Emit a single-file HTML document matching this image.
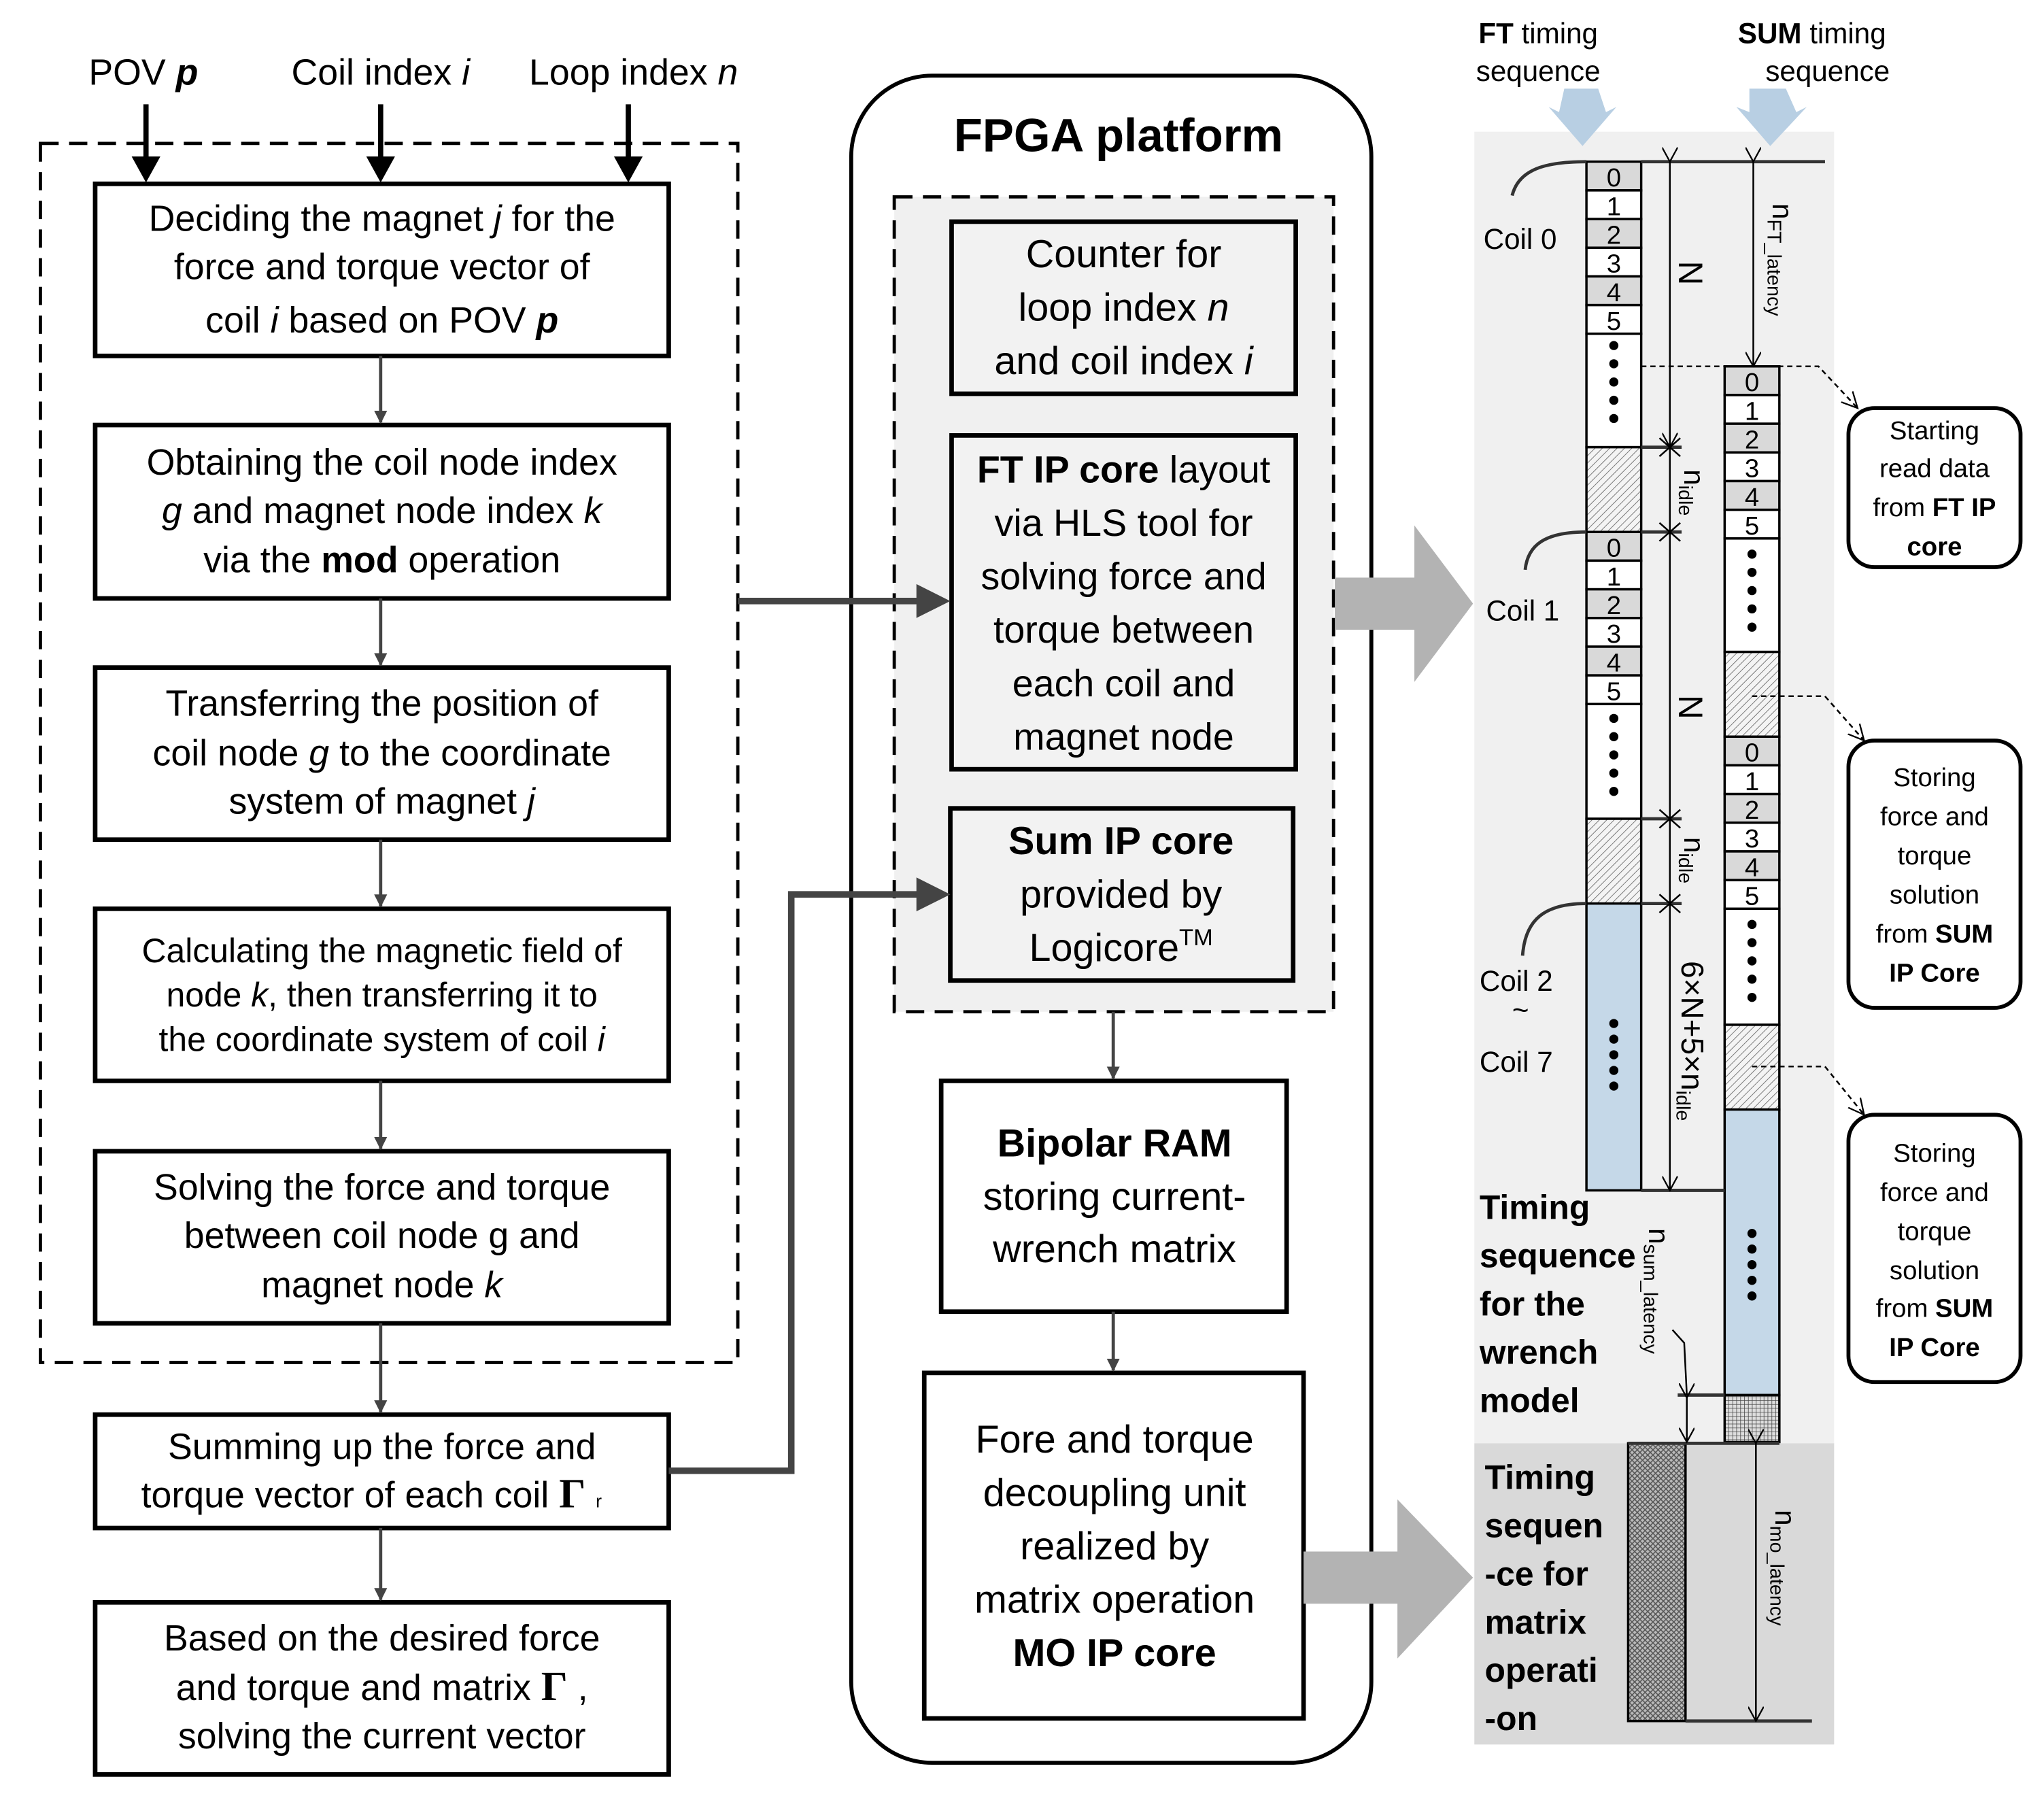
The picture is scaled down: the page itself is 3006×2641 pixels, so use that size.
<!DOCTYPE html>
<html><head><meta charset="utf-8"><style>
html,body{margin:0;padding:0;background:#fff}
svg{display:block}
text{font-family:"Liberation Sans",sans-serif;fill:#000}
</style></head><body>
<svg width="3006" height="2641" viewBox="0 0 1568 1377.5" preserveAspectRatio="none" xmlns="http://www.w3.org/2000/svg">
<defs>
<pattern id="hatch" width="4" height="4" patternUnits="userSpaceOnUse" patternTransform="rotate(45)">
<rect width="4" height="4" fill="#f4f4f4"/><line x1="0" y1="0" x2="0" y2="4" stroke="#777" stroke-width="1"/></pattern>
<pattern id="cross" width="4" height="4" patternUnits="userSpaceOnUse">
<rect width="4" height="4" fill="#bbb"/><path d="M0 0L4 4M4 0L0 4" stroke="#555" stroke-width="0.8"/></pattern>
<pattern id="grid" width="3" height="3" patternUnits="userSpaceOnUse">
<rect width="3" height="3" fill="#ddd"/><path d="M0 0H3M0 0V3" stroke="#444" stroke-width="0.8"/></pattern>
<marker id="ah" markerWidth="10" markerHeight="10" refX="9" refY="5" orient="auto" markerUnits="userSpaceOnUse"><path d="M0 0L10 5L0 10z" fill="#444"/></marker>
<marker id="dm" markerWidth="12" markerHeight="12" refX="11" refY="6" orient="auto" markerUnits="userSpaceOnUse"><path d="M0 0L11 6L0 12" fill="none" stroke="#000" stroke-width="1.2"/></marker>
<marker id="dmk" markerWidth="14" markerHeight="14" refX="12" refY="7" orient="auto" markerUnits="userSpaceOnUse"><path d="M0 1L12 7L0 13" fill="none" stroke="#000" stroke-width="1.2"/></marker>
</defs>

<g font-size="28" text-anchor="middle">
<text x="110" y="65">POV <tspan font-weight="bold" font-style="italic">p</tspan></text>
<text x="292" y="65">Coil index <tspan font-style="italic">i</tspan></text>
<text x="486" y="65">Loop index <tspan font-style="italic">n</tspan></text>
</g>
<g stroke="#000" stroke-width="4">
<line x1="112" y1="80" x2="112" y2="128"/><line x1="292" y1="80" x2="292" y2="128"/><line x1="482" y1="80" x2="482" y2="128"/>
</g>
<g fill="#000"><path d="M101 120L123 120L112 140z"/><path d="M281 120L303 120L292 140z"/><path d="M471 120L493 120L482 140z"/></g>
<rect x="31" y="110" width="535" height="935" fill="none" stroke="#000" stroke-width="2.5" stroke-dasharray="14,8"/>
<g fill="#fff" stroke="#000" stroke-width="3.5">
<rect x="73" y="141" width="440" height="132"/>
<rect x="73" y="326" width="440" height="133"/>
<rect x="73" y="512" width="440" height="132"/>
<rect x="73" y="697" width="440" height="132"/>
<rect x="73" y="883" width="440" height="132"/>
<rect x="73" y="1085" width="440" height="87"/>
<rect x="73" y="1229" width="440" height="132"/>
</g>
<g stroke="#444" stroke-width="2.5" marker-end="url(#ah)">
<line x1="292" y1="273" x2="292" y2="324"/><line x1="292" y1="459" x2="292" y2="510"/>
<line x1="292" y1="644" x2="292" y2="695"/><line x1="292" y1="829" x2="292" y2="881"/>
<line x1="292" y1="1015" x2="292" y2="1083"/><line x1="292" y1="1172" x2="292" y2="1227"/>
</g>
<g font-size="28" text-anchor="middle">
<text x="293" y="177">Deciding the magnet <tspan font-style="italic">j</tspan> for the</text>
<text x="293" y="214">force and torque vector of</text>
<text x="293" y="255">coil <tspan font-style="italic">i</tspan> based on POV  <tspan font-weight="bold" font-style="italic">p</tspan></text>
<text x="293" y="364">Obtaining the coil node index</text>
<text x="293" y="401"><tspan font-style="italic">g</tspan> and magnet node index <tspan font-style="italic">k</tspan></text>
<text x="293" y="439">via the <tspan font-weight="bold">mod</tspan> operation</text>
<text x="293" y="549">Transferring the position of</text>
<text x="293" y="587">coil node <tspan font-style="italic">g</tspan> to the coordinate</text>
<text x="293" y="624">system of magnet <tspan font-style="italic">j</tspan></text>
<text x="293" y="738" font-size="26">Calculating the magnetic field of</text>
<text x="293" y="772" font-size="26">node <tspan font-style="italic">k</tspan>, then transferring it to</text>
<text x="293" y="806" font-size="26">the coordinate system of coil <tspan font-style="italic">i</tspan></text>
<text x="293" y="920">Solving the force and torque</text>
<text x="293" y="957">between coil node g and</text>
<text x="293" y="995">magnet node <tspan font-style="italic">k</tspan></text>
<text x="293" y="1119">Summing up the force and</text>
<text x="285" y="1156">torque vector of each coil <tspan font-family="Liberation Serif" font-weight="bold" font-size="32">Γ</tspan> <tspan font-size="14">r</tspan></text>
<text x="293" y="1266">Based on the desired force</text>
<text x="293" y="1304">and torque and matrix  <tspan font-family="Liberation Serif" font-weight="bold" font-size="32">Γ</tspan> ,</text>
<text x="293" y="1341">solving the current vector</text>
</g>

<rect x="653" y="58" width="399" height="1294" rx="62" fill="#fff" stroke="#000" stroke-width="3"/>
<text x="858" y="116" font-size="36" font-weight="bold" text-anchor="middle">FPGA platform</text>
<rect x="686" y="151" width="337" height="625" fill="#f0f0f0" stroke="#000" stroke-width="2.5" stroke-dasharray="14,8"/>
<g fill="#f2f2f2" stroke="#000" stroke-width="3.5">
<rect x="730" y="170" width="264" height="132"/>
<rect x="730" y="334" width="264" height="256"/>
<rect x="729" y="620" width="263" height="132"/>
<rect x="722" y="829" width="265" height="177" fill="#fff"/>
<rect x="709" y="1053" width="291" height="265" fill="#fff"/>
</g>
<g font-size="30" text-anchor="middle">
<text x="862" y="205">Counter for</text>
<text x="862" y="246">loop index <tspan font-style="italic">n</tspan></text>
<text x="862" y="287">and coil index <tspan font-style="italic">i</tspan></text>
<text x="862" y="370" font-size="29"><tspan font-weight="bold">FT IP core</tspan> layout</text>
<text x="862" y="411" font-size="29">via HLS tool for</text>
<text x="862" y="452" font-size="29">solving force and</text>
<text x="862" y="493" font-size="29">torque between</text>
<text x="862" y="534" font-size="29">each coil and</text>
<text x="862" y="575" font-size="29">magnet node</text>
<text x="860" y="655" font-weight="bold">Sum IP core</text>
<text x="860" y="696">provided by</text>
<text x="860" y="737">Logicore<tspan font-size="18" dy="-12">TM</tspan></text>
<text x="855" y="887" font-weight="bold">Bipolar RAM</text>
<text x="855" y="928">storing current-</text>
<text x="855" y="968">wrench matrix</text>
<text x="855" y="1114">Fore and torque</text>
<text x="855" y="1155">decoupling unit</text>
<text x="855" y="1196">realized by</text>
<text x="855" y="1237">matrix operation</text>
<text x="855" y="1278" font-weight="bold">MO IP core</text>
</g>
<g stroke="#444" stroke-width="5" fill="none">
<line x1="566" y1="461" x2="705" y2="461"/>
<polyline points="513,1128 607,1128 607,686 705,686"/>
</g>
<path d="M703 448L729 461L703 474z" fill="#444"/>
<path d="M703 673L729 686L703 699z" fill="#444"/>
<g stroke="#444" stroke-width="2.5" marker-end="url(#ah)">
<line x1="854" y1="776" x2="854" y2="827"/><line x1="854" y1="1006" x2="854" y2="1051"/>
</g>

<path d="M1024 443H1085V403L1130 463L1085 523V483H1024z" fill="#b3b3b3"/>
<path d="M1000 1190H1072V1150L1130 1210L1072 1272V1230H1000z" fill="#b3b3b3"/>

<rect x="1131" y="101" width="276" height="1006" fill="#f0f0f0"/>
<rect x="1131" y="1107" width="276" height="231" fill="#d9d9d9"/>
<g font-size="22" text-anchor="middle">
<text x="1180" y="33"><tspan font-weight="bold">FT</tspan> timing</text>
<text x="1180" y="62">sequence</text>
<text x="1390" y="33"><tspan font-weight="bold">SUM</tspan> timing</text>
<text x="1402" y="62">sequence</text>
</g>
<path d="M1200 68H1226L1232 86L1240 82L1214 112L1188 82L1196 86z" fill="#b8cfe3"/>
<path d="M1342 68H1370L1378 86L1386 82L1358 112L1332 82L1342 86z" fill="#b8cfe3"/>

<g stroke="#000" stroke-width="1.8">
<rect x="1217" y="124" width="42" height="22" fill="#d9d9d9"/><rect x="1217" y="146" width="42" height="22" fill="#fff"/>
<rect x="1217" y="168" width="42" height="22" fill="#d9d9d9"/><rect x="1217" y="190" width="42" height="22" fill="#fff"/>
<rect x="1217" y="212" width="42" height="22" fill="#d9d9d9"/><rect x="1217" y="234" width="42" height="22" fill="#fff"/>
<rect x="1217" y="256" width="42" height="87" fill="#fff"/>
<rect x="1217" y="343" width="42" height="65" fill="url(#hatch)"/>
<rect x="1217" y="408" width="42" height="22" fill="#d9d9d9"/><rect x="1217" y="430" width="42" height="22" fill="#fff"/>
<rect x="1217" y="452" width="42" height="22" fill="#d9d9d9"/><rect x="1217" y="474" width="42" height="22" fill="#fff"/>
<rect x="1217" y="496" width="42" height="22" fill="#d9d9d9"/><rect x="1217" y="518" width="42" height="22" fill="#fff"/>
<rect x="1217" y="540" width="42" height="88" fill="#fff"/>
<rect x="1217" y="628" width="42" height="65" fill="url(#hatch)"/>
<rect x="1217" y="693" width="42" height="220" fill="#c5d8e8"/>
</g>
<g stroke="#000" stroke-width="1.8">
<rect x="1323" y="281" width="42" height="22" fill="#d9d9d9"/><rect x="1323" y="303" width="42" height="22" fill="#fff"/>
<rect x="1323" y="325" width="42" height="22" fill="#d9d9d9"/><rect x="1323" y="347" width="42" height="22" fill="#fff"/>
<rect x="1323" y="369" width="42" height="22" fill="#d9d9d9"/><rect x="1323" y="391" width="42" height="22" fill="#fff"/>
<rect x="1323" y="413" width="42" height="87" fill="#fff"/>
<rect x="1323" y="500" width="42" height="65" fill="url(#hatch)"/>
<rect x="1323" y="565" width="42" height="22" fill="#d9d9d9"/><rect x="1323" y="587" width="42" height="22" fill="#fff"/>
<rect x="1323" y="609" width="42" height="22" fill="#d9d9d9"/><rect x="1323" y="631" width="42" height="22" fill="#fff"/>
<rect x="1323" y="653" width="42" height="22" fill="#d9d9d9"/><rect x="1323" y="675" width="42" height="22" fill="#fff"/>
<rect x="1323" y="697" width="42" height="89" fill="#fff"/>
<rect x="1323" y="786" width="42" height="65" fill="url(#hatch)"/>
<rect x="1323" y="851" width="42" height="219" fill="#c5d8e8"/>
<rect x="1323" y="1070" width="42" height="36" fill="url(#grid)"/>
<rect x="1249" y="1107" width="44" height="213" fill="url(#cross)"/>
</g>
<g font-size="20" text-anchor="middle">
<text x="1238" y="143">0</text><text x="1238" y="165">1</text><text x="1238" y="187">2</text><text x="1238" y="209">3</text><text x="1238" y="231">4</text><text x="1238" y="253">5</text>
<text x="1238" y="427">0</text><text x="1238" y="449">1</text><text x="1238" y="471">2</text><text x="1238" y="493">3</text><text x="1238" y="515">4</text><text x="1238" y="537">5</text>
<text x="1344" y="300">0</text><text x="1344" y="322">1</text><text x="1344" y="344">2</text><text x="1344" y="366">3</text><text x="1344" y="388">4</text><text x="1344" y="410">5</text>
<text x="1344" y="584">0</text><text x="1344" y="606">1</text><text x="1344" y="628">2</text><text x="1344" y="650">3</text><text x="1344" y="672">4</text><text x="1344" y="694">5</text>
</g>
<g fill="#000">
<g transform="translate(1238,265)"><circle cy="0" r="3.5"/><circle cy="14" r="3.5"/><circle cy="28" r="3.5"/><circle cy="42" r="3.5"/><circle cy="56" r="3.5"/></g>
<g transform="translate(1238,551)"><circle cy="0" r="3.5"/><circle cy="14" r="3.5"/><circle cy="28" r="3.5"/><circle cy="42" r="3.5"/><circle cy="56" r="3.5"/></g>
<g transform="translate(1238,785)"><circle cy="0" r="3.5"/><circle cy="12" r="3.5"/><circle cy="24" r="3.5"/><circle cy="36" r="3.5"/><circle cy="48" r="3.5"/></g>
<g transform="translate(1344,425)"><circle cy="0" r="3.5"/><circle cy="14" r="3.5"/><circle cy="28" r="3.5"/><circle cy="42" r="3.5"/><circle cy="56" r="3.5"/></g>
<g transform="translate(1344,709)"><circle cy="0" r="3.5"/><circle cy="14" r="3.5"/><circle cy="28" r="3.5"/><circle cy="42" r="3.5"/><circle cy="56" r="3.5"/></g>
<g transform="translate(1344,946)"><circle cy="0" r="3.5"/><circle cy="12" r="3.5"/><circle cy="24" r="3.5"/><circle cy="36" r="3.5"/><circle cy="48" r="3.5"/></g>
</g>
<g stroke="#333" stroke-width="2.5" fill="none">
<line x1="1259" y1="124" x2="1400" y2="124"/>
<line x1="1259" y1="343" x2="1290" y2="343"/><line x1="1259" y1="408" x2="1290" y2="408"/>
<line x1="1259" y1="628" x2="1290" y2="628"/><line x1="1259" y1="693" x2="1290" y2="693"/>
<line x1="1259" y1="913" x2="1323" y2="913"/>
<line x1="1287" y1="1070" x2="1323" y2="1070"/>
<line x1="1249" y1="1107" x2="1365" y2="1107"/>
<line x1="1293" y1="1320" x2="1390" y2="1320"/>
<path d="M1160 150C1165 130 1185 124 1217 124"/>
<path d="M1170 437C1172 418 1185 408 1217 408"/>
<path d="M1168 733C1170 705 1185 693 1217 693"/>
</g>
<g stroke="#000" stroke-width="1.3" fill="none">
<line x1="1281" y1="124" x2="1281" y2="343" marker-start="url(#dm)" marker-end="url(#dm)"/>
<line x1="1281" y1="343" x2="1281" y2="408"/>
<path d="M1273 336L1289 350M1289 336L1273 350M1273 401L1289 415M1289 401L1273 415M1273 621L1289 635M1289 621L1273 635M1273 686L1289 700M1289 686L1273 700"/>
<line x1="1281" y1="408" x2="1281" y2="628"/>
<line x1="1281" y1="628" x2="1281" y2="693"/>
<line x1="1281" y1="693" x2="1281" y2="913" marker-end="url(#dm)"/>
<line x1="1345" y1="124" x2="1345" y2="281" marker-start="url(#dm)" marker-end="url(#dm)"/>
<line x1="1294" y1="1072" x2="1294" y2="1106" marker-start="url(#dm)" marker-end="url(#dm)"/>
<path d="M1283 1020L1292 1030L1294 1070"/>
<line x1="1347" y1="1107" x2="1347" y2="1320" marker-start="url(#dm)" marker-end="url(#dm)"/>
</g>
<g stroke="#000" stroke-width="1.3" fill="none" stroke-dasharray="4,3">
<path d="M1259 281H1395L1425 313" marker-end="url(#dmk)"/>
<path d="M1344 534H1400L1430 568" marker-end="url(#dmk)"/>
<path d="M1344 818H1400L1430 855" marker-end="url(#dmk)"/>
</g>
<g font-size="22">
<text transform="translate(1288,200) rotate(90)" font-size="26">N</text>
<text transform="translate(1288,533) rotate(90)" font-size="26">N</text>
<text transform="translate(1292,360) rotate(90)">n<tspan font-size="15" dy="4">idle</tspan></text>
<text transform="translate(1292,642) rotate(90)">n<tspan font-size="15" dy="4">idle</tspan></text>
<text transform="translate(1290,737) rotate(90)" font-size="24">6×N+5×n<tspan font-size="15" dy="4">idle</tspan></text>
<text transform="translate(1360,156) rotate(90)">n<tspan font-size="15" dy="4">FT_latency</tspan></text>
<text transform="translate(1265,942) rotate(90)">n<tspan font-size="15" dy="4">sum_latency</tspan></text>
<text transform="translate(1362,1158) rotate(90)">n<tspan font-size="15" dy="4">mo_latency</tspan></text>
</g>
<g font-size="22">
<text x="1138" y="191">Coil 0</text>
<text x="1140" y="476">Coil 1</text>
<text x="1135" y="760">Coil 2</text>
<text x="1160" y="782">~</text>
<text x="1135" y="822">Coil 7</text>
</g>
<g font-size="26" font-weight="bold">
<text x="1135" y="935">Timing</text>
<text x="1135" y="972">sequence</text>
<text x="1135" y="1009">for the</text>
<text x="1135" y="1046">wrench</text>
<text x="1135" y="1083">model</text>
<text x="1139" y="1142">Timing</text>
<text x="1139" y="1179">sequen</text>
<text x="1139" y="1216">-ce for</text>
<text x="1139" y="1253">matrix</text>
<text x="1139" y="1290">operati</text>
<text x="1139" y="1327">-on</text>
</g>
<g fill="#fff" stroke="#000" stroke-width="3">
<rect x="1418" y="313" width="132" height="122" rx="20"/>
<rect x="1418" y="568" width="132" height="205" rx="20"/>
<rect x="1418" y="855" width="132" height="205" rx="20"/>
</g>
<g font-size="20" text-anchor="middle">
<text x="1484" y="337">Starting</text>
<text x="1484" y="366">read data</text>
<text x="1484" y="396">from <tspan font-weight="bold">FT IP</tspan></text>
<text x="1484" y="426" font-weight="bold">core</text>
<text x="1484" y="603">Storing</text>
<text x="1484" y="633">force and</text>
<text x="1484" y="663">torque</text>
<text x="1484" y="693">solution</text>
<text x="1484" y="723">from <tspan font-weight="bold">SUM</tspan></text>
<text x="1484" y="753" font-weight="bold">IP Core</text>
<text x="1484" y="891">Storing</text>
<text x="1484" y="921">force and</text>
<text x="1484" y="951">torque</text>
<text x="1484" y="981">solution</text>
<text x="1484" y="1010">from <tspan font-weight="bold">SUM</tspan></text>
<text x="1484" y="1040" font-weight="bold">IP Core</text>
</g>
</svg>
</body></html>
